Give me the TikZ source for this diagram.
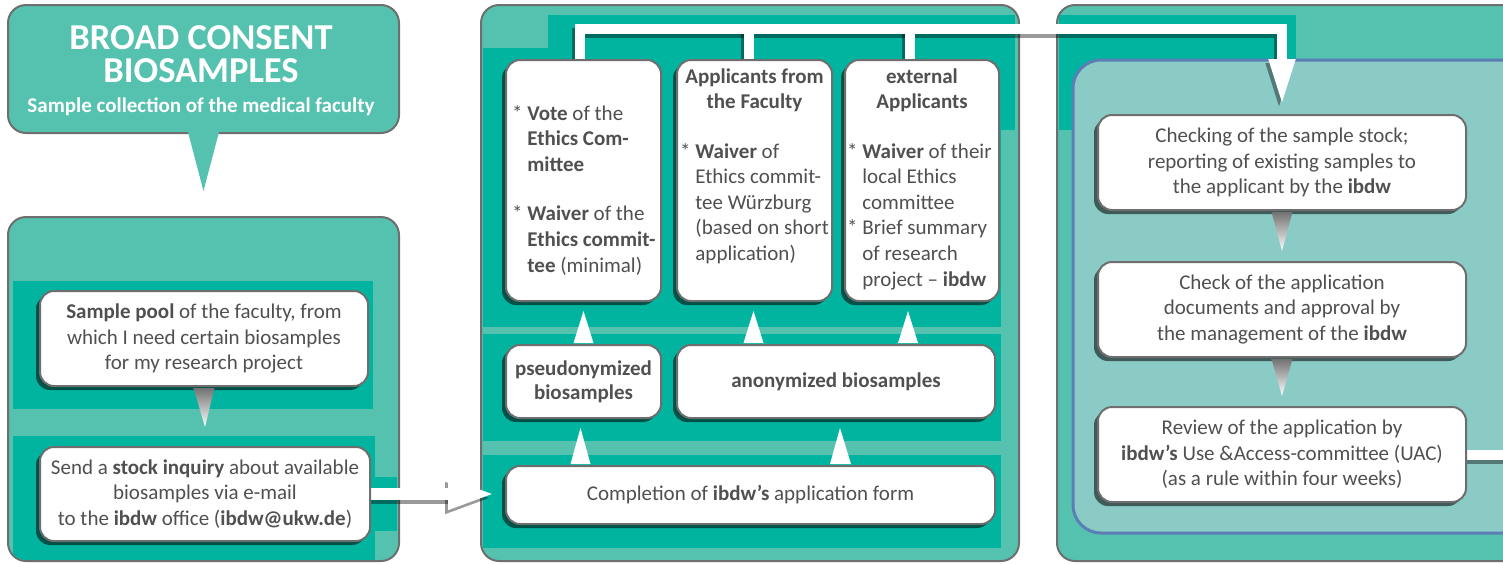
\documentclass[tikz,border=0pt]{standalone}
\usepackage{fontspec}
\setmainfont{Carlito}
\usetikzlibrary{shadows,arrows.meta,calc}
\definecolor{lteal}{HTML}{55C2B0}
\definecolor{dteal}{HTML}{00B4A0}
\definecolor{bfill}{HTML}{8ACBC6}
\definecolor{bblue}{HTML}{5B7FB5}
\definecolor{bgray}{HTML}{6E6E6E}
\definecolor{tgray}{HTML}{505050}
\pgfdeclarelayer{back}
\pgfdeclarelayer{mid}
\pgfsetlayers{back,mid,main}
\begin{document}
\begin{tikzpicture}[x=1pt,y=-1pt,
 panel/.style={draw=bgray,line width=2pt,fill=lteal,rounded corners=18pt,inner sep=0pt},
 wbox/.style={draw=bgray,line width=2pt,fill=white,rounded corners=14pt,inner sep=0pt,align=center,
   text=tgray,font=\fontsize{21}{25.6}\selectfont,
   drop shadow={shadow xshift=-4pt,shadow yshift=-4pt,opacity=.55,fill=black}},
 txt/.style={inner sep=0pt,text=tgray,font=\fontsize{21}{25.6}\selectfont},
 uptri/.style={fill=white},
 dntri/.style={top color=black!55,bottom color=white},
 wline/.style={draw=white,line width=10pt},
 shline/.style={draw=black,opacity=.4},
]
\path[use as bounding box] (0,0) rectangle (1503,563);
\clip (0,0) rectangle (1503,563);

% ---------- boxes (main layer) ----------
\node[wbox,minimum width=328pt,minimum height=95pt] (pool) at (204,338.5)
 {\textbf{Sample pool} of the faculty, from\\which I need certain biosamples\\for my research project};
\node[wbox,minimum width=330pt,minimum height=94pt] (send) at (205,494)
 {Send a \textbf{stock inquiry} about available\\biosamples via e-mail\\to the \textbf{ibdw} office (\textbf{ibdw@ukw.de})};

\node[wbox,minimum width=155pt,minimum height=241pt] (vote) at (583.5,180.5) {};
\node[wbox,minimum width=155pt,minimum height=241pt] (app) at (754.5,180.5) {};
\node[wbox,minimum width=154pt,minimum height=241pt] (ext) at (922,180.5) {};
\node[txt,anchor=north west,align=left] (votetxt) at (512,105)
 {* \textbf{Vote} of the\\\phantom{* }\textbf{Ethics Com-}\\\phantom{* }\textbf{mittee}\\[24pt]
  * \textbf{Waiver} of the\\\phantom{* }\textbf{Ethics commit-}\\\phantom{* }\textbf{tee} (minimal)};
\node[txt,anchor=north,align=center,font=\fontsize{21}{25}\selectfont\bfseries] (apphead) at (754.5,69)
 {Applicants from\\the Faculty};
\node[txt,anchor=north west,align=left] (appbody) at (680,143)
 {* \textbf{Waiver} of\\\phantom{* }Ethics commit-\\\phantom{* }tee Würzburg\\\phantom{* }(based on short\\\phantom{* }application)};
\node[txt,anchor=north,align=center,font=\fontsize{21}{25}\selectfont\bfseries] (exthead) at (922,69)
 {external\\Applicants};
\node[txt,anchor=north west,align=left] (extbody) at (847,143)
 {* \textbf{Waiver} of their\\\phantom{* }local Ethics\\\phantom{* }committee\\* Brief summary\\\phantom{* }of research\\\phantom{* }project -- \textbf{ibdw}};

\node[wbox,minimum width=155pt,minimum height=73pt,font=\fontsize{21}{24}\selectfont\bfseries] (pseudo) at (583.5,381.5)
 {pseudonymized\\biosamples};
\node[wbox,minimum width=318pt,minimum height=73pt,font=\fontsize{21}{24}\selectfont\bfseries] (anon) at (836,381.5)
 {anonymized biosamples};
\node[wbox,minimum width=489pt,minimum height=58pt] (compl) at (750.5,495)
 {Completion of \textbf{ibdw’s} application form};

\node[wbox,minimum width=368pt,minimum height=95pt] (check) at (1282,162.5)
 {Checking of the sample stock;\\reporting of existing samples to\\the applicant by the \textbf{ibdw}};
\node[wbox,minimum width=368pt,minimum height=95pt] (appr) at (1282,309.5)
 {Check of the application\\documents and approval by\\the management of the \textbf{ibdw}};
\node[wbox,minimum width=368pt,minimum height=95pt] (review) at (1282,454.5)
 {Review of the application by\\\textbf{ibdw’s} Use \&Access-committee (UAC)\\(as a rule within four weeks)};

% ---------- panels (back layer) ----------
\begin{pgfonlayer}{back}
\node[panel,minimum width=391pt,minimum height=128pt] (title) at (203.5,69) {};
\node[inner sep=0pt,text=white,align=center,font=\bfseries\fontsize{36.5}{33}\selectfont,anchor=north] (titletxt) at (201,25)
 {BROAD CONSENT\\BIOSAMPLES\\[-3pt]{\fontsize{21}{25}\selectfont Sample collection of the medical faculty}};
\node[panel,minimum width=391pt,minimum height=344pt] (p2) at (203.5,389) {};
\node[panel,minimum width=538pt,minimum height=556pt] (p3) at (750,283) {};
\node[panel,minimum width=483pt,minimum height=556pt] (p4) at (1298.5,283) {};
\begin{scope}
 \clip[rounded corners=17pt] (9,218) rectangle (398,560);
 \fill[dteal] (13,281) rectangle (373,409);
 \fill[dteal] (13,436) rectangle (375,560);
 \fill[dteal] (375,477) rectangle (397,531);
\end{scope}
\begin{scope}
 \clip[rounded corners=17pt] (482,6) rectangle (1018,560);
 \fill[dteal] (548,15) rectangle (1015,130);
 \fill[dteal] (483,48) rectangle (1001,327);
 \fill[dteal] (483,334) rectangle (1001,441);
 \fill[dteal] (483,455) rectangle (1001,548);
\end{scope}
\begin{scope}
 \clip[rounded corners=17pt] (1058,6) rectangle (1560,560);
 \fill[dteal] (1059,15) rectangle (1296,130);
\end{scope}
\node[draw=bblue,line width=3pt,fill=bfill,rounded corners=28pt,minimum width=457pt,minimum height=473pt,inner sep=0pt] (inner) at (1301.5,296.5) {};
\fill[lteal] ([xshift=-15.5pt,yshift=2pt]title.south) -- ([xshift=15.5pt,yshift=2pt]title.south) -- ([yshift=25pt]p2.north) -- cycle;
\end{pgfonlayer}

% ---------- connectors (mid layer) ----------
\begin{pgfonlayer}{mid}
\coordinate (topy) at (0,29);
\coordinate (j) at (check.north |- topy);
\coordinate (rexit) at (1520,0);
% shadows of the white connectors
\begin{scope}[transform canvas={xshift=-3pt,yshift=-4pt}]
\draw[wline,shline,-{Triangle[length=47pt,width=24pt]}] ([xshift=-4pt]vote.north) |- (j) -- ([yshift=8pt]check.north);
\draw[wline,shline] ([xshift=-6pt]app.north) -- ++(0,-31);
\draw[wline,shline] ([xshift=-12pt]ext.north) -- ++(0,-31);
\draw[wline,shline,line width=12pt,-{Triangle[length=48pt,width=28pt]},shorten >=9pt] (send.east) -- (send.east -| compl.west);
\draw[wline,shline] (review.east) -- (review.east -| rexit);
\end{scope}
% white connectors
\draw[wline,-{Triangle[length=47pt,width=24pt]}] ([xshift=-4pt]vote.north) |- (j) -- ([yshift=8pt]check.north);
\draw[wline] ([xshift=-6pt]app.north) -- ++(0,-31);
\draw[wline] ([xshift=-12pt]ext.north) -- ++(0,-31);
\draw[wline,line width=12pt,-{Triangle[length=48pt,width=28pt]},shorten >=9pt] (send.east) -- (send.east -| compl.west);
\draw[wline] (review.east) -- (review.east -| rexit);
\end{pgfonlayer}

% ---------- pointer triangles ----------
\path[dntri] ([xshift=-10.5pt,yshift=-1pt]pool.south) -- ([xshift=10.5pt,yshift=-1pt]pool.south) -- ([yshift=19pt]send.north) -- cycle;
\path[dntri] ([xshift=-10.5pt,yshift=-1pt]check.south) -- ([xshift=10.5pt,yshift=-1pt]check.south) -- ([yshift=10pt]appr.north) -- cycle;
\path[dntri] ([xshift=-10.5pt,yshift=-1pt]appr.south) -- ([xshift=10.5pt,yshift=-1pt]appr.south) -- ([yshift=10pt]review.north) -- cycle;

\fill[uptri] ($(pseudo.south|-compl.north)+(-13,-1)$) -- ($(pseudo.south|-compl.north)+(7,-1)$) -- ($(pseudo.south)+(-3,9)$) -- cycle;
\fill[uptri] ($(anon.south|-compl.north)+(-6,-1)$) -- ($(anon.south|-compl.north)+(15,-1)$) -- ($(anon.south)+(4,9)$) -- cycle;
\fill[uptri] ($(pseudo.north)+(-10,-1)$) -- ($(pseudo.north)+(10,-1)$) -- ($(vote.south)+(0,9)$) -- cycle;
\fill[uptri] ($(app.south|-anon.north)+(-11,-1)$) -- ($(app.south|-anon.north)+(9,-1)$) -- ($(app.south)+(-1,9)$) -- cycle;
\fill[uptri] ($(ext.south|-anon.north)+(-24,-1)$) -- ($(ext.south|-anon.north)+(-4,-1)$) -- ($(ext.south)+(-14,9)$) -- cycle;
\end{tikzpicture}
\end{document}
